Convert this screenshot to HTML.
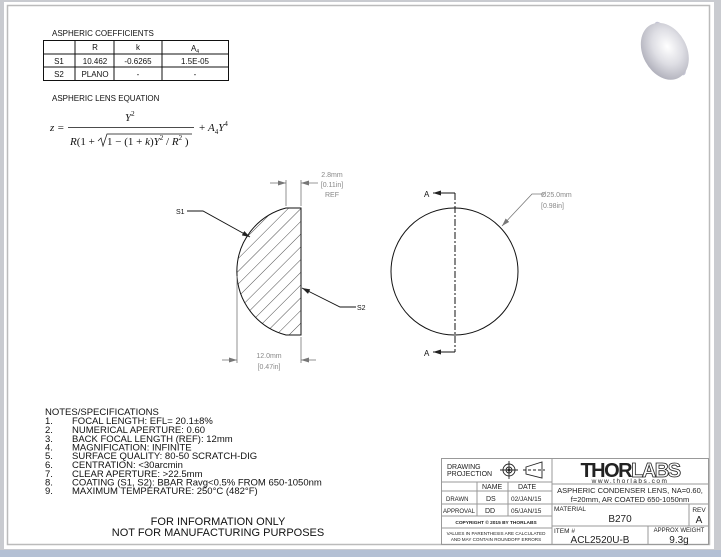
<!DOCTYPE html>
<html><head><meta charset="utf-8"><style>
html,body{margin:0;padding:0;background:#c9cbd0;}
svg{display:block;font-family:"Liberation Sans",sans-serif;}
</style></head><body>
<svg width="721" height="557" viewBox="0 0 721 557" xmlns="http://www.w3.org/2000/svg">
<defs>
<pattern id="hatch" patternUnits="userSpaceOnUse" width="9" height="9" patternTransform="rotate(45)">
<line x1="0" y1="0" x2="0" y2="9" stroke="#222" stroke-width="0.8"/>
</pattern>
<radialGradient id="lg" cx="0.6" cy="0.45" r="0.7">
<stop offset="0" stop-color="#ffffff"/><stop offset="0.45" stop-color="#dedee4"/><stop offset="1" stop-color="#a4a4b0"/>
</radialGradient>
<marker id="ar" markerWidth="8" markerHeight="6" refX="8" refY="3" orient="auto" markerUnits="userSpaceOnUse"><path d="M0,0.5 L8,3 L0,5.5 Z" fill="#222"/></marker>
<marker id="ag" markerWidth="8" markerHeight="6" refX="8" refY="3" orient="auto" markerUnits="userSpaceOnUse"><path d="M0,0.5 L8,3 L0,5.5 Z" fill="#777"/></marker>
</defs>
<rect x="0" y="0" width="721" height="557" fill="#c9cbd0"/>
<rect x="0" y="550" width="721" height="7" fill="#b4c0d4"/>
<rect x="4" y="2" width="710" height="547" fill="#fff"/>
<rect x="7.5" y="5.5" width="702" height="539" fill="none" stroke="#bbb" stroke-width="1.5"/>

<!-- 3D lens -->
<g transform="rotate(-28 667 49)">
<ellipse cx="670" cy="50" rx="8" ry="30" fill="#c4c4d4"/>
<ellipse cx="664" cy="50" rx="22" ry="30" fill="url(#lg)"/>
</g>

<!-- coefficients -->
<text x="52" y="36" font-size="8" fill="#111">ASPHERIC COEFFICIENTS</text>
<g stroke="#111" stroke-width="1" fill="none">
<rect x="43.5" y="40.5" width="185" height="40"/>
<line x1="43" y1="54" x2="228" y2="54"/><line x1="43" y1="67" x2="228" y2="67"/>
<line x1="75" y1="40" x2="75" y2="81"/><line x1="114" y1="40" x2="114" y2="81"/><line x1="162" y1="40" x2="162" y2="81"/>
</g>
<g font-size="8" fill="#111" text-anchor="middle">
<text x="95" y="50">R</text><text x="138" y="50">k</text><text x="195" y="51">A<tspan font-size="5" dy="2">4</tspan></text>
<text x="59" y="64">S1</text><text x="95" y="64">10.462</text><text x="138" y="64">-0.6265</text><text x="195" y="64">1.5E-05</text>
<text x="59" y="77">S2</text><text x="95" y="77">PLANO</text><text x="138" y="77">-</text><text x="195" y="77">-</text>
</g>
<text x="52" y="101" font-size="8" fill="#111">ASPHERIC LENS EQUATION</text>
<g font-family="Liberation Serif,serif" font-style="italic" fill="#111" font-size="11">
<text x="50" y="131">z =</text>
<text x="125" y="121">Y<tspan font-size="7" dy="-5" font-style="normal">2</tspan></text>
<line x1="68" y1="127.5" x2="194" y2="127.5" stroke="#111" stroke-width="0.8"/>
<text x="70" y="145">R<tspan font-style="normal">(1 +</tspan></text>
<path d="M98,141 L101,138 L103,146 L107,134 L192,134" stroke="#111" stroke-width="0.7" fill="none"/>
<text x="107" y="145"><tspan font-style="normal">1 − (1 + </tspan>k<tspan font-style="normal">)</tspan>Y<tspan font-size="7" dy="-5" font-style="normal">2</tspan><tspan dy="5" font-style="normal"> / </tspan>R<tspan font-size="7" dy="-5" font-style="normal">2</tspan><tspan dy="5" font-style="normal"> )</tspan></text>
<text x="199" y="131"><tspan font-style="normal">+ </tspan>A<tspan font-size="7" dy="3" font-style="normal">4</tspan><tspan dy="-3">Y</tspan><tspan font-size="7" dy="-5" font-style="normal">4</tspan></text>
</g>

<!-- lens section -->
<path d="M286,208 L301,208 L301,335 L286,335 A65.6,65.6 0 0 1 286,208 Z" fill="url(#hatch)" stroke="#111" stroke-width="1"/>
<g stroke="#777" stroke-width="0.8" fill="none">
<line x1="286" y1="180" x2="286" y2="206"/><line x1="301" y1="180" x2="301" y2="206"/>
<line x1="270" y1="183" x2="286" y2="183" marker-end="url(#ag)"/>
<line x1="318" y1="183" x2="301" y2="183" marker-end="url(#ag)"/>
<line x1="237" y1="276" x2="237" y2="363"/><line x1="301" y1="337" x2="301" y2="363"/>
<line x1="222" y1="360" x2="237" y2="360" marker-end="url(#ag)"/>
<line x1="316" y1="360" x2="301" y2="360" marker-end="url(#ag)"/>
</g>
<g font-size="7" fill="#888" text-anchor="middle">
<text x="332" y="177">2.8mm</text><text x="332" y="187">[0.11in]</text><text x="332" y="197">REF</text>
<text x="269" y="358">12.0mm</text><text x="269" y="369">[0.47in]</text>
</g>
<g stroke="#111" stroke-width="0.9" fill="none">
<polyline points="187,211 203,211 250,237" marker-end="url(#ar)"/>
<polyline points="356,307 340,307 302,288" marker-end="url(#ar)"/>
</g>
<text x="176" y="214" font-size="7" fill="#111">S1</text>
<text x="357" y="310" font-size="7" fill="#111">S2</text>

<!-- circle view -->
<circle cx="454.5" cy="271.5" r="63.5" fill="none" stroke="#111" stroke-width="1"/>
<line x1="455" y1="193" x2="455" y2="352" stroke="#111" stroke-width="1" stroke-dasharray="7,2,2,2"/>
<g stroke="#111" stroke-width="1" fill="none">
<line x1="455" y1="193" x2="433" y2="193" marker-end="url(#ar)"/>
<line x1="455" y1="352" x2="433" y2="352" marker-end="url(#ar)"/>
</g>
<text x="424" y="197" font-size="8" fill="#111">A</text>
<text x="424" y="356" font-size="8" fill="#111">A</text>
<polyline points="544,194 532,194 502,226" fill="none" stroke="#777" stroke-width="0.8" marker-end="url(#ag)"/>
<text x="541" y="197" font-size="7" fill="#888">Ø25.0mm</text>
<text x="541" y="208" font-size="7" fill="#888">[0.98in]</text>

<!-- notes -->
<g font-size="9.5" fill="#111">
<text x="45" y="415">NOTES/SPECIFICATIONS</text>
<text x="45" y="424">1.</text><text x="72" y="424">FOCAL LENGTH: EFL= 20.1±8%</text>
<text x="45" y="433">2.</text><text x="72" y="433">NUMERICAL APERTURE: 0.60</text>
<text x="45" y="442">3.</text><text x="72" y="442">BACK FOCAL LENGTH (REF): 12mm</text>
<text x="45" y="450.5">4.</text><text x="72" y="450.5">MAGNIFICATION: INFINITE</text>
<text x="45" y="459">5.</text><text x="72" y="459">SURFACE QUALITY: 80-50 SCRATCH-DIG</text>
<text x="45" y="468">6.</text><text x="72" y="468">CENTRATION: &lt;30arcmin</text>
<text x="45" y="477">7.</text><text x="72" y="477">CLEAR APERTURE: &gt;22.5mm</text>
<text x="45" y="485.5">8.</text><text x="72" y="485.5">COATING (S1, S2): BBAR Ravg&lt;0.5% FROM 650-1050nm</text>
<text x="45" y="494">9.</text><text x="72" y="494">MAXIMUM TEMPERATURE: 250°C (482°F)</text>
</g>
<g font-size="11" fill="#111" text-anchor="middle">
<text x="218" y="525">FOR INFORMATION ONLY</text>
<text x="218" y="536">NOT FOR MANUFACTURING PURPOSES</text>
</g>

<!-- title block -->
<g stroke="#999" stroke-width="1" fill="none">
<rect x="441.5" y="458.5" width="267" height="86"/>
<line x1="552" y1="458" x2="552" y2="545"/>
<line x1="441" y1="482" x2="552" y2="482"/>
<line x1="441" y1="491" x2="552" y2="491"/>
<line x1="441" y1="504" x2="552" y2="504"/>
<line x1="441" y1="516" x2="552" y2="516"/>
<line x1="441" y1="528" x2="552" y2="528"/>
<line x1="477" y1="482" x2="477" y2="516"/>
<line x1="508" y1="482" x2="508" y2="516"/>
<line x1="552" y1="484" x2="709" y2="484"/>
<line x1="552" y1="504" x2="709" y2="504"/>
<line x1="552" y1="526" x2="709" y2="526"/>
<line x1="689" y1="504" x2="689" y2="526"/>
<line x1="648" y1="526" x2="648" y2="545"/>
</g>
<g fill="#222" font-size="7">
<text x="447" y="469">DRAWING</text><text x="447" y="476">PROJECTION</text>
<text x="482" y="489">NAME</text><text x="518" y="489">DATE</text>
<text x="446" y="501" font-size="6">DRAWN</text><text x="486" y="501">DS</text><text x="511" y="501" font-size="6.5">02/JAN/15</text>
<text x="443" y="513" font-size="6">APPROVAL</text><text x="485" y="513">DD</text><text x="511" y="513" font-size="6.5">05/JAN/15</text>
<text x="496" y="524" font-size="4.8" text-anchor="middle" font-weight="bold">COPYRIGHT © 2015 BY THORLABS</text>
<text x="496" y="535" font-size="4.6" text-anchor="middle">VALUES IN PARENTHESIS ARE CALCULATED</text>
<text x="496" y="541" font-size="4.6" text-anchor="middle">AND MAY CONTAIN ROUNDOFF ERRORS</text>
<text x="630" y="477" font-size="20" font-weight="bold" text-anchor="middle" letter-spacing="-1.5">THOR<tspan fill="#fff" stroke="#222" stroke-width="0.8">LABS</tspan></text>
<text x="630" y="483" font-size="6.5" text-anchor="middle" letter-spacing="1.5">www.thorlabs.com</text>
<text x="630" y="493" font-size="7.5" text-anchor="middle">ASPHERIC CONDENSER LENS, NA=0.60,</text>
<text x="630" y="502" font-size="7.5" text-anchor="middle">f=20mm, AR COATED 650-1050nm</text>
<text x="554" y="511" font-size="6.5">MATERIAL</text>
<text x="620" y="522" font-size="10" text-anchor="middle">B270</text>
<text x="699" y="512" font-size="6.5" text-anchor="middle">REV</text>
<text x="699" y="523" font-size="10" text-anchor="middle">A</text>
<text x="554" y="533" font-size="6.5">ITEM #</text>
<text x="600" y="543" font-size="10" text-anchor="middle">ACL2520U-B</text>
<text x="679" y="532" font-size="6" text-anchor="middle">APPROX WEIGHT</text>
<text x="679" y="543" font-size="10" text-anchor="middle">9.3g</text>
</g>
<g stroke="#222" stroke-width="0.9" fill="none">
<circle cx="509" cy="470" r="6"/><circle cx="509" cy="470" r="3"/><circle cx="509" cy="470" r="1" fill="#222"/>
<line x1="500" y1="470" x2="518" y2="470"/><line x1="509" y1="461" x2="509" y2="479"/>
<path d="M526,467 L542,462 L542,478 L526,474 Z"/>
<line x1="523" y1="470" x2="545" y2="470" stroke-dasharray="3,2"/>
</g>
</svg>
</body></html>
